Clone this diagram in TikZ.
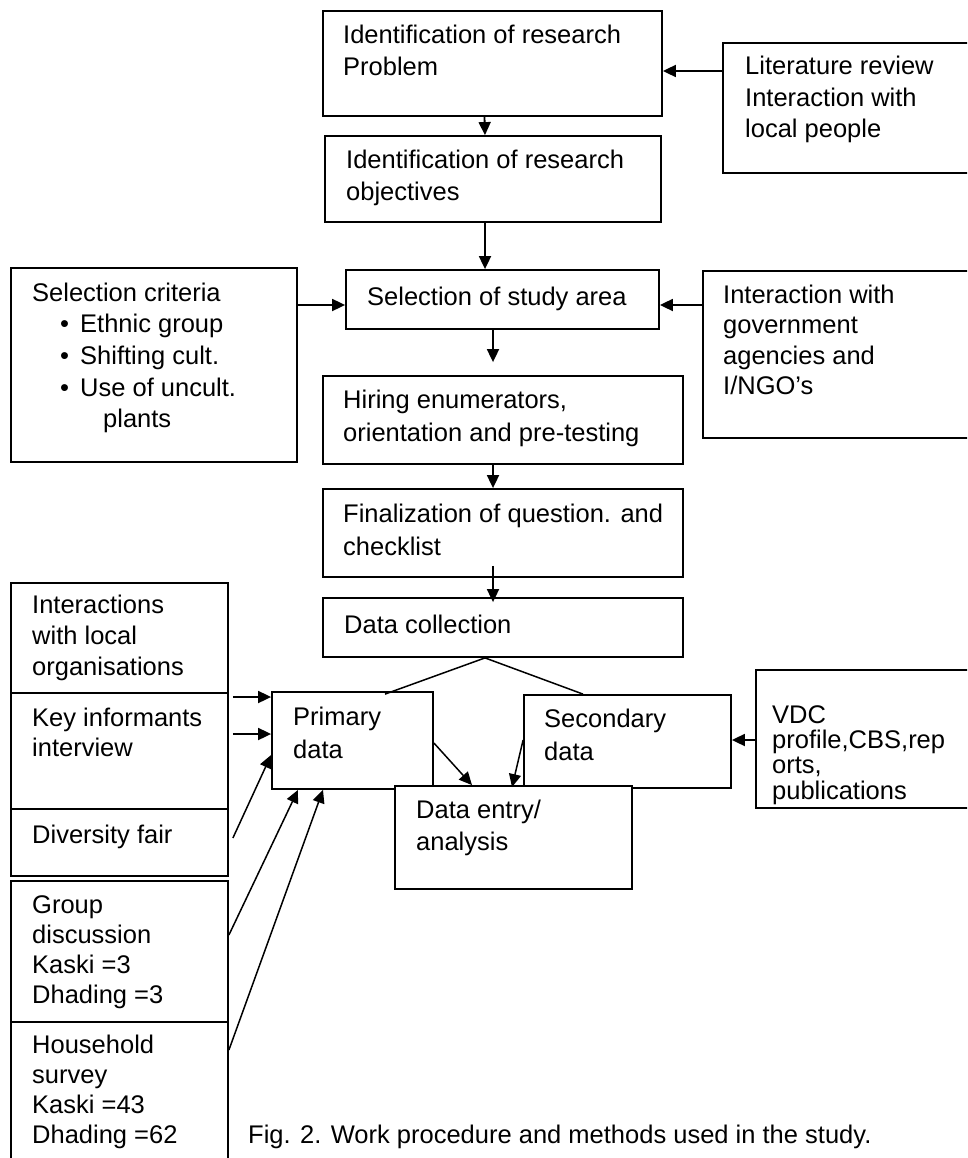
\documentclass[tikz,border=0pt]{standalone}
\usepackage{fontspec}
\setmainfont{Liberation Sans}
\usetikzlibrary{arrows.meta,fit,calc}
\newcommand\tl[1]{\begin{tabular}[t]{@{}l@{}}#1\end{tabular}}
\begin{document}
\begin{tikzpicture}[x=1pt,y=-1pt,
  boxst/.style={draw=black, line width=1.8pt, fill=white, inner sep=0pt, fit={#1}},
  txt/.style={anchor=base west, inner sep=0pt, font={\fontsize{25.5}{#1}\selectfont}},
  txt/.default=31,
  arr/.style={-{Triangle[length=13pt,width=12pt]}, line width=1.8pt},
  ln/.style={line width=1.5pt},
  darr/.style={-{Triangle[length=13pt,width=12pt]}, line width=1.5pt}]
\useasboundingbox (0,0) rectangle (967,1158);
\fill[white] (0,0) rectangle (967,1158);
\clip (0,0) rectangle (967,1158);

% central column
\node[boxst={(323,11) (662,116)}] (prob) {};
\node[txt=32] (probt) at (343,44) {\tl{Identification of research\\Problem}};
\node[boxst={(325,136) (661,222)}] (obj) {};
\node[txt=32] (objt) at (346,169) {\tl{Identification of research\\objectives}};
\node[boxst={(723,43) (985,173)}] (lit) {};
\node[txt=31.5] (litt) at (745,75) {\tl{Literature review\\Interaction with\\local people}};
\node[boxst={(346,270) (659,329)}] (area) {};
\node[txt] (areat) at (367,305) {Selection of study area};
\node[boxst={(11,268) (297,462)}] (crit) {};
\node[txt=31.7] (critt) at (32,301) {\tl{Selection criteria\\
  \hspace{28pt}\makebox[20pt][l]{•}Ethnic group\\
  \hspace{28pt}\makebox[20pt][l]{•}Shifting cult.\\
  \hspace{28pt}\makebox[20pt][l]{•}Use of uncult.\\
  \hspace{71pt}plants}};
\node[boxst={(703,271) (985,438)}] (gov) {};
\node[txt=30.5] (govt) at (723,303) {\tl{Interaction with\\government\\agencies and\\I/NGO’s}};
\node[boxst={(323,376) (683,464)}] (hire) {};
\node[txt=33] (hiret) at (343,408) {\tl{Hiring enumerators,\\orientation and pre-testing}};
\node[boxst={(323,489) (683,577)}] (final) {};
\node[txt=33] (finalt) at (343,522) {\tl{Finalization of question. and\\checklist}};
\node[boxst={(323,598) (683,657)}] (dc) {};
\node[txt] (dct) at (344,633) {Data collection};
\node[boxst={(272,692) (433,789)}] (prim) {};
\node[txt=33] (primt) at (293,725) {\tl{Primary\\data}};
\node[boxst={(524,695) (731,788)}] (sec) {};
\node[txt=33] (sect) at (544,727) {\tl{Secondary\\data}};
\node[boxst={(395,786) (632,889)}] (entry) {};
\node[txt=32] (entryt) at (416,818) {\tl{Data entry/\\analysis}};
\node[boxst={(756,670) (985,808)}] (vdc) {};
\node[txt=24.5] (vdct) at (772,723) {\tl{VDC\\profile,CBS,rep\\orts,\\publications}};

% left stack
\node[boxst={(11,583) (228,693)}] (int) {};
\node[txt=31] (intt) at (32,613) {\tl{Interactions\\with local\\organisations}};
\node[boxst={(11,693) (228,809)}] (key) {};
\node[txt=30] (keyt) at (32,726) {\tl{Key informants\\interview}};
\node[boxst={(11,809) (228,876)}] (div) {};
\node[txt] (divt) at (32,843) {Diversity fair};
\node[boxst={(11,881) (228,1022)}] (grp) {};
\node[txt=30] (grpt) at (32,913) {\tl{Group\\discussion\\Kaski =3\\Dhading =3}};
\node[boxst={(11,1022) (228,1180)}] (hh) {};
\node[txt=30] (hht) at (32,1053) {\tl{Household\\survey\\Kaski =43\\Dhading =62}};
\node[txt] (cap) at (248,1143) {Fig. 2. Work procedure and methods used in the study.};

% connectors
\draw[arr] ([xshift=-8pt]prob.south) -- ([xshift=-8pt]obj.north);
\draw[arr] (lit.west |- 0,71) -- (prob.east |- 0,71);
\draw[arr] ([xshift=-8pt]obj.south) -- ([xshift=-17.5pt]area.north);
\draw[arr] (crit.east |- 0,305) -- (area.west |- 0,305);
\draw[arr] (gov.west |- 0,305) -- (area.east |- 0,305);
\draw[arr, shorten >=13pt] ([xshift=-9.5pt]area.south) -- ([xshift=-10pt]hire.north);
\draw[arr] ([xshift=-10pt]hire.south) -- ([xshift=-10pt]final.north);
\draw[arr, shorten <=-12pt, shorten >=-5pt] ([xshift=-10pt]final.south) -- ([xshift=-10pt]dc.north);
\draw[ln] ([xshift=-18pt]dc.south) -- ([xshift=32.5pt,yshift=-3pt]prim.north);
\draw[ln] ([xshift=-18pt]dc.south) -- ([xshift=-44.5pt]sec.north);
\draw[darr] (prim.east |- 0,743) -- ([xshift=-41.5pt]entry.north);
\draw[darr] (sec.west |- 0,740) -- ([xshift=-1.5pt,yshift=-2pt]entry.north);
\draw[arr] ($(key.east |- 0,697)+(4,0)$) -- (prim.west |- 0,697);
\draw[arr] ($(key.east |- 0,734)+(4,0)$) -- (prim.west |- 0,734);
\draw[darr] ($(div.east |- 0,838)+(4,0)$) -- (prim.west |- 0,755);
\draw[darr] (grp.east |- 0,935) -- ([xshift=-54.5pt]prim.south);
\draw[darr] (hh.east |- 0,1050) -- ([xshift=-29.5pt]prim.south);
\draw[arr] (vdc.west |- 0,740) -- (sec.east |- 0,740);
\end{tikzpicture}
\end{document}
